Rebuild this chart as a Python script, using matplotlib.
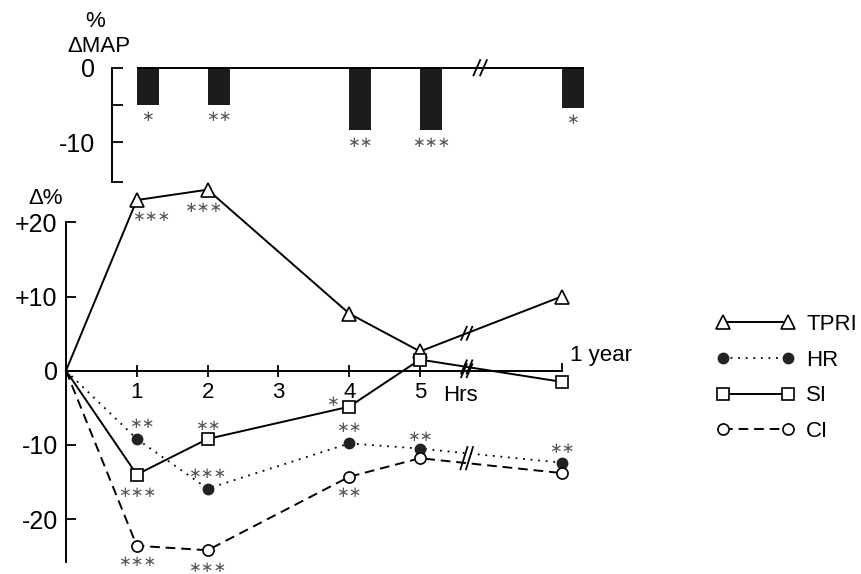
import numpy as np
import matplotlib
matplotlib.use("Agg")
import matplotlib.pyplot as plt
from matplotlib.transforms import ScaledTranslation
from matplotlib.lines import Line2D
from matplotlib.legend_handler import HandlerLine2D

plt.rcParams['font.family'] = ['Liberation Sans', 'DejaVu Sans']

# time points (hours); the "1 year" value sits at position 7 after the break
hours = [0, 1, 2, 4, 5, 7]
tpri = [0, 23.0, 24.4, 7.7, 2.6, 10.0]
hr = [0, -9.2, -15.9, -9.8, -10.5, -12.4]
si = [0, -14.0, -9.2, -4.85, 1.5, -1.5]
ci = [0, -23.6, -24.2, -14.3, -11.8, -13.8]

tpri_sig = ['', '***', '***', '', '', '']
hr_sig = ['', '**', '***', '**', '**', '**']
si_sig = ['', '***', '**', '*', '', '']
ci_sig = ['', '***', '***', '**', '', '']

# top panel: % change of mean arterial pressure
map_hours = [1, 2, 4, 5, 7]
map_vals = [-5.0, -5.0, -8.4, -8.4, -5.4]
map_sig = ['*', '**', '**', '***', '*']

xticks = [1, 2, 3, 4, 5]
yticks = [20, 10, 0, -10, -20]
ytick_labels = ['+20', '+10', '0', '-10', '-20']

W, H = 862, 574
fig = plt.figure(figsize=(W / 100, H / 100), dpi=100)

# lower panel
ax = fig.add_axes([66 / W, 1 - 562.1 / H, 531 / W, (562.1 - 177.8) / H])
# upper panel (same x mapping)
axt = fig.add_axes([66 / W, 1 - 181.7 / H, 531 / W, (181.7 - 52.8) / H])

lw = 1.4
pts = list(range(1, len(hours)))  # no marker at the origin
ax.plot(hours, tpri, color='k', lw=lw, marker='^', ms=9.5, mfc='white', mec='k', mew=1.2,
        markevery=pts, label='TPRI', clip_on=False, zorder=3)
ax.plot(hours, hr, color='k', lw=1.3, ls=(0, (1, 3.2)), marker='o', ms=7.5,
        mfc='#222222', mec='#222222', markevery=pts, label='HR', clip_on=False, zorder=3)
ax.plot(hours, si, color='k', lw=lw, marker='s', ms=9, mfc='white', mec='k', mew=1.2,
        markevery=pts, label='SI', clip_on=False, zorder=3)
ax.plot(hours, ci, color='k', lw=lw, ls=(0, (5, 3)), marker='o', ms=8, mfc='white',
        mec='k', mew=1.2, markevery=pts, label='CI', clip_on=False, zorder=3)


def stars(a, x, y, s, dx, dy):
    if s:
        a.annotate(s.replace('*', '\u2217'), (x, y), xytext=(dx, dy), textcoords='offset points',
                   ha='center', va='center', fontsize=11, color='#555555',
                   family='DejaVu Sans', annotation_clip=False)


# label offsets (points) for each significance mark
tpri_off = [None, (10, -11.5), (-3, -13), None, None, None]
hr_off = [None, (3.5, 11), (0, 11), (0, 11.5), (0, 9), (0, 10)]
si_off = [None, (0, -13), (0, 10), (-12, 3.5), None, None]
ci_off = [None, (0, -11.5), (0, -12.2), (0, -11), None, None]
for vals, sig, off in [(tpri, tpri_sig, tpri_off), (hr, hr_sig, hr_off),
                       (si, si_sig, si_off), (ci, ci_sig, ci_off)]:
    for x, y, s, o in zip(hours, vals, sig, off):
        if s:
            stars(ax, x, y, s, *o)


def break_mark(a, x, y, h=4.7, w=2.0, gap=2.0):
    tr = fig.dpi_scale_trans + ScaledTranslation(x, y, a.transData)
    for g in (-gap, gap):
        a.plot([(g - w) / 72, (g + w) / 72], [-h / 72, h / 72], transform=tr,
               color='k', lw=1.3, clip_on=False, zorder=4)


xb = 5.66
break_mark(ax, xb, 0)
break_mark(ax, xb, np.interp(xb, hours, tpri))
break_mark(ax, xb, np.interp(xb, hours, si))
break_mark(ax, xb, (np.interp(xb, hours, hr) + np.interp(xb, hours, ci)) / 2, h=8, w=2.5)

ax.spines[['top', 'right']].set_visible(False)
ax.spines['bottom'].set_position(('data', 0))
ax.spines['bottom'].set_bounds(0, 7)
ax.spines['left'].set_bounds(-25.8, 20)
for sp in ax.spines.values():
    sp.set_linewidth(1.4)
ax.set_xticks(xticks)
ax.set_xticks([7], minor=True)
ax.tick_params(axis='x', which='major', direction='inout', length=9, width=1.3,
               labelsize=16, pad=4)
ax.tick_params(axis='x', which='minor', direction='in', length=6, width=1.3)
ax.set_yticks(yticks)
ax.set_yticklabels(ytick_labels)
ax.tick_params(axis='y', direction='in', length=7, width=1.3, labelsize=18, pad=6)
ax.set_xlim(0, 7.5)
ax.set_ylim(-25.8, 26)

ax.annotate('Hrs', (5.32, 0), xytext=(0, -10.5), textcoords='offset points',
            ha='left', va='top', fontsize=16)
ax.text(7.12, 2.0, '1 year', ha='left', va='center', fontsize=16)
fig.text(46 / W, 1 - 199 / H, '\u0394%', ha='center', va='center', fontsize=16)

# upper panel
bar_w = 0.31
axt.bar(map_hours, map_vals, width=bar_w, align='edge', color='#1c1c1c', zorder=2)
axt.hlines(0, map_hours[0], map_hours[-1] + bar_w, color='k', lw=1.4, zorder=3)
for x, y, s in zip(map_hours, map_vals, map_sig):
    stars(axt, x + bar_w / 2, y, s, 0, -8.6)
break_mark(axt, 5.85, 0, h=5.5, w=2.4, gap=2.4)

axt.spines[['top', 'right', 'bottom']].set_visible(False)
axt.spines['left'].set_position(('data', 0.645))
axt.spines['left'].set_bounds(-15.3, 0)
axt.spines['left'].set_linewidth(1.4)
axt.set_xticks([])
axt.set_yticks([0, -5, -10, -15.3])
axt.set_yticklabels(['0', '', '-10', ''])
axt.tick_params(axis='y', direction='in', length=8, width=1.3, labelsize=18, pad=12)
axt.set_xlim(0, 7.5)
axt.set_ylim(-15.3, 2)
fig.text(95 / W, 1 - 21.7 / H, '%', ha='center', va='center', fontsize=16)
fig.text(99.3 / W, 1 - 46.7 / H, '\u0394MAP', ha='center', va='center', fontsize=16)

handles, labels = ax.get_legend_handles_labels()
fig.legend(handles, labels, loc='center left', bbox_to_anchor=(722.7 / W, 1 - 378 / H),
           frameon=False, fontsize=16, handlelength=2.95, handletextpad=0.8,
           labelspacing=0.66, borderpad=0, borderaxespad=0,
           handler_map={Line2D: HandlerLine2D(marker_pad=0, numpoints=2)})

fig.savefig('out.png', dpi=100)
